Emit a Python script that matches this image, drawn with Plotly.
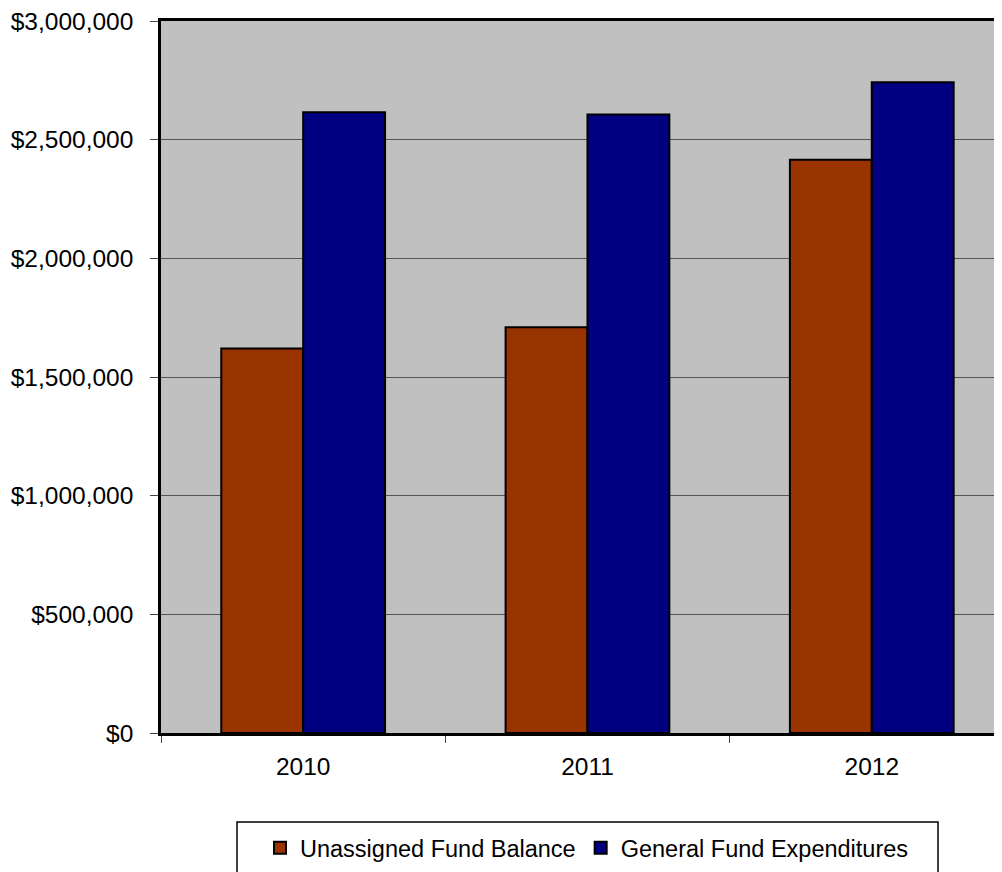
import plotly.graph_objects as go

years = ["2010", "2011", "2012"]
unassigned = [1620000, 1710000, 2415000]
expenditures = [2615000, 2606000, 2742000]
y_ticks = [0, 500000, 1000000, 1500000, 2000000, 2500000, 3000000]
y_labels = ["$0", "$500,000", "$1,000,000", "$1,500,000", "$2,000,000", "$2,500,000", "$3,000,000"]

FONT = "Liberation Sans, Arial, sans-serif"

# page body has an 8px margin; compensate so the figure fills the 1002x872 window
W, H = 994, 864
L, T, B = 161 - 8, 21 - 8, 872 - 733
PW = W - L
PH = H - T - B

fig = go.Figure()
fig.add_trace(go.Bar(name="Unassigned Fund Balance", x=years, y=unassigned,
                     marker=dict(color="#993300", line=dict(color="black", width=2))))
fig.add_trace(go.Bar(name="General Fund Expenditures", x=years, y=expenditures,
                     marker=dict(color="#000080", line=dict(color="black", width=2))))

fig.update_layout(
    width=W, height=H,
    margin=dict(l=L, r=0, t=T, b=B),
    paper_bgcolor="white",
    plot_bgcolor="#C0C0C0",
    barmode="group",
    bargap=0.424,
    bargroupgap=0,
    font=dict(family=FONT, size=24, color="black"),
    showlegend=True,
    legend=dict(orientation="h", x=(587 - 161) / PW, xanchor="center",
                y=(733 - 848) / PH, yanchor="middle",
                bgcolor="rgba(0,0,0,0)", borderwidth=0, font=dict(size=23.5),
                traceorder="normal"),
    shapes=[dict(type="rect", xref="paper", yref="paper",
                 x0=(237 - 161) / PW, x1=(938 - 161) / PW,
                 y0=(733 - 822) / PH, y1=-0.3,
                 line=dict(color="black", width=1.5), fillcolor="rgba(0,0,0,0)", layer="below")],
)
fig.update_xaxes(range=[-0.5, 2.458], showline=True, linecolor="black", linewidth=2.5, mirror=True,
                 ticks="outside", tickson="boundaries", ticklen=7, tickcolor="#444", tickwidth=1,
                 showgrid=False, tickfont=dict(size=24.5), ticklabelstandoff=10, fixedrange=True)
fig.update_yaxes(range=[0, 3000000], tickvals=y_ticks, ticktext=y_labels,
                 showline=True, linecolor="black", linewidth=2.5,
                 ticks="outside", ticklen=8, tickcolor="#444", tickwidth=1,
                 showgrid=True, gridcolor="#555555", gridwidth=1, zeroline=False,
                 tickfont=dict(size=24.5), ticklabelstandoff=12, ticklabeloverflow="allow",
                 fixedrange=True)

fig.write_html("out.html")
